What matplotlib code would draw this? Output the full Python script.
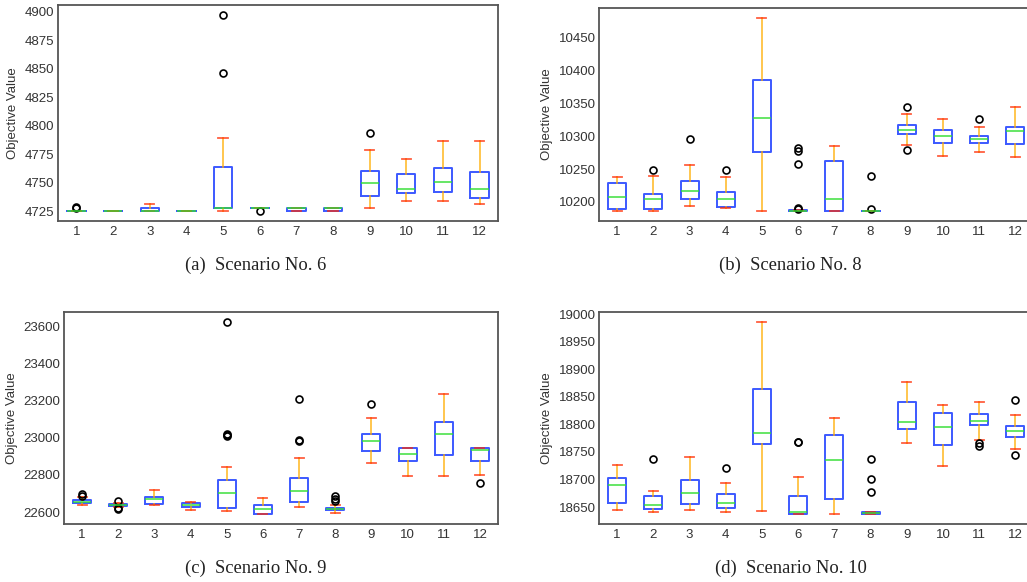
import matplotlib
matplotlib.use("Agg")
import matplotlib.pyplot as plt

positions = list(range(1, 13))

# (a) Scenario No. 6
a_med = [4725, 4725, 4725, 4725, 4728, 4728, 4728, 4728, 4749.3, 4744.6, 4750.2, 4744.6]
a_q1 = [4725, 4725, 4725, 4725, 4727.9, 4727.6, 4725, 4725, 4738.5, 4740.8, 4741.7, 4737.0]
a_q3 = [4725.4, 4725, 4728.2, 4725, 4764.2, 4728.2, 4728.2, 4728.2, 4760.1, 4757.5, 4763.3, 4759.2]
a_lo = [4725, 4725, 4725, 4725, 4725, 4727.6, 4725, 4725, 4727.9, 4734.1, 4734.1, 4731.1]
a_hi = [4725.4, 4725, 4731, 4725, 4789, 4728.2, 4728.2, 4728.2, 4779.1, 4771.2, 4786.2, 4786.2]
a_fl = [[4728, 4728.3], [], [], [], [4846.5, 4897.4], [4725], [], [], [4793.2], [], [], []]

# (b) Scenario No. 8
b_med = [10208.1, 10204.6, 10216.2, 10204.6, 10327.8, 10186.3, 10204.1, 10186.3, 10309.5, 10300.9, 10295.8, 10308.5]
b_q1 = [10189.9, 10189.9, 10204.1, 10192.9, 10276.6, 10185.8, 10185.8, 10185.8, 10302.9, 10289.2, 10289.2, 10287.7]
b_q3 = [10228.9, 10212.7, 10231.9, 10214.7, 10385.6, 10187.5, 10262.4, 10186.8, 10317.1, 10309.5, 10300.9, 10313.6]
b_lo = [10186.3, 10186.3, 10194.4, 10190.4, 10186.3, 10185.8, 10185.8, 10185.8, 10286.7, 10270.5, 10276.6, 10268.5]
b_hi = [10238.0, 10240.1, 10256.3, 10238.0, 10480.4, 10187.5, 10284.7, 10186.8, 10333.9, 10326.8, 10314.6, 10344.5]
b_fl = [[], [10248.2], [10296.3], [10248.2], [],
        [10189.9, 10190.4, 10258.3, 10277.6, 10281.6], [], [10189.9, 10240.1],
        [10344.5, 10278.6], [], [10326.8], []]

# (c) Scenario No. 9
c_med = [22653.6, 22639.3, 22669.6, 22637.5, 22700.0, 22617.9, 22714.3, 22616.1, 22983.9, 22914.3, 23021.4, 22935.7]
c_q1 = [22648.2, 22633.9, 22642.9, 22625.0, 22621.4, 22587.5, 22653.6, 22608.9, 22930.4, 22873.2, 22905.4, 22875.0]
c_q3 = [22664.3, 22644.6, 22680.4, 22646.4, 22775.0, 22635.7, 22783.9, 22621.4, 23023.2, 22942.9, 23085.7, 22942.9]
c_lo = [22639.3, 22628.6, 22637.5, 22610.7, 22607.1, 22589.3, 22625.0, 22594.6, 22862.5, 22796.4, 22794.6, 22801.8]
c_hi = [22678.6, 22648.2, 22721.4, 22653.6, 22842.9, 22673.2, 22892.9, 22635.7, 23107.1, 22942.9, 23233.9, 22942.9]
c_fl = [[22694.6, 22687.5], [22657.0, 22619.6, 22616.0], [], [],
        [23626.8, 23019.6, 23010.7, 23015.0], [], [23208.9, 22987.5, 22982.1],
        [22685.7, 22671.4, 22658.9], [23180.4], [], [], [22758.9]]

# (d) Scenario No. 10
d_med = [18689.2, 18654.2, 18674.7, 18656.6, 18783.7, 18641.6, 18734.9, 18639.2, 18804.8, 18795.2, 18806.6, 18788.6]
d_q1 = [18656.6, 18646.4, 18654.8, 18647.6, 18765.1, 18636.7, 18665.1, 18636.7, 18792.2, 18763.3, 18799.4, 18776.5]
d_q3 = [18702.4, 18669.9, 18698.8, 18672.9, 18863.9, 18669.3, 18780.7, 18641.6, 18840.4, 18821.1, 18818.1, 18797.0]
d_lo = [18645.2, 18641.0, 18645.2, 18641.0, 18643.4, 18636.7, 18636.7, 18636.7, 18766.3, 18724.7, 18772.3, 18754.8]
d_hi = [18727.1, 18679.5, 18741.0, 18692.8, 18986.7, 18704.8, 18811.4, 18641.6, 18877.1, 18836.1, 18841.0, 18816.3]
d_fl = [[], [18736.7], [], [18720.5], [], [18768.7, 18768.0], [],
        [18736.7, 18700.6, 18677.1], [], [], [18766.3, 18760.2], [18844.6, 18744.0]]

a_ticks = [4725, 4750, 4775, 4800, 4825, 4850, 4875, 4900]
b_ticks = [10200, 10250, 10300, 10350, 10400, 10450]
c_ticks = [22600, 22800, 23000, 23200, 23400, 23600]
d_ticks = [18650, 18700, 18750, 18800, 18850, 18900, 18950, 19000]

captions = ["(a)  Scenario No. 6", "(b)  Scenario No. 8",
            "(c)  Scenario No. 9", "(d)  Scenario No. 10"]

panels = [
    (a_med, a_q1, a_q3, a_lo, a_hi, a_fl, a_ticks),
    (b_med, b_q1, b_q3, b_lo, b_hi, b_fl, b_ticks),
    (c_med, c_q1, c_q3, c_lo, c_hi, c_fl, c_ticks),
    (d_med, d_q1, d_q3, d_lo, d_hi, d_fl, d_ticks),
]

# axes rectangles in figure fractions (right column runs off the page)
rects = [
    [0.0565, 0.6203, 0.4284, 0.3711],
    [0.5833, 0.6203, 0.4230, 0.3660],
    [0.0623, 0.0997, 0.4226, 0.3643],
    [0.5833, 0.0997, 0.4230, 0.3643],
]
cap_pos = [(0.249, 0.544), (0.770, 0.544), (0.249, 0.024), (0.770, 0.024)]

plt.rcParams["font.family"] = ["Liberation Sans", "DejaVu Sans"]

fig = plt.figure(figsize=(10.27, 5.82), dpi=100)

for rect, (med, q1, q3, lo, hi, fl, ticks), cap, (cx, cy) in zip(rects, panels, captions, cap_pos):
    ax = fig.add_axes(rect)
    stats = [dict(med=m, q1=a, q3=b, whislo=l, whishi=h, fliers=f)
             for m, a, b, l, h, f in zip(med, q1, q3, lo, hi, fl)]
    ax.bxp(stats, positions=positions, widths=0.5,
           boxprops=dict(color="#1a3cff", linewidth=1.4, alpha=0.85),
           whiskerprops=dict(color="#ffad00", linewidth=1.3, alpha=0.75),
           capprops=dict(color="#ff2a00", linewidth=1.3, alpha=0.75),
           medianprops=dict(color="#33dd33", linewidth=1.4, alpha=0.75),
           flierprops=dict(marker="o", markersize=5, markerfacecolor="none",
                           markeredgecolor="black", markeredgewidth=1.2))
    ax.set_xlim(0.5, 12.5)
    ax.set_yticks(ticks)
    ax.set_xticks(positions)
    ax.set_xticklabels([str(p) for p in positions])
    ax.tick_params(length=0, labelsize=9.5, labelcolor="#333333")
    ax.tick_params(axis="y", pad=2.5)
    ax.tick_params(axis="x", pad=3.5)
    ax.set_ylabel("Objective Value", fontsize=9.5, color="#333333", labelpad=4)
    for s in ax.spines.values():
        s.set_color("#555555")
        s.set_linewidth(1.3)
    fig.text(cx, cy, cap, ha="center", va="center", fontsize=13.4,
             family="Liberation Serif", color="#222222")

fig.savefig("out.png", dpi=100)
